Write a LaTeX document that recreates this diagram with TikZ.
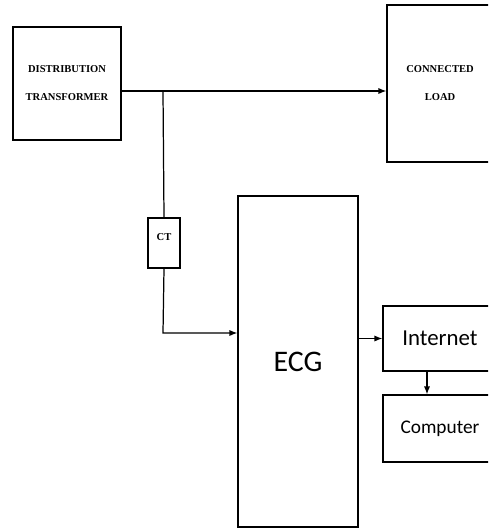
\documentclass[tikz,border=0pt]{standalone}
\usepackage{fontspec}
\setmainfont{Liberation Serif}
\newfontfamily\labfont{Carlito}
\usetikzlibrary{arrows.meta,positioning,calc}

\begin{document}
\begin{tikzpicture}[x=0.02cm, y=-0.02cm,
    block/.style={draw, line width=0.7pt, inner sep=0pt, align=center},
    caps/.style={font=\fontsize{6}{16}\selectfont\bfseries},
    arr/.style={-{Latex[length=4.5pt,width=3.5pt]}, line width=0.7pt},
    wire/.style={line width=0.7pt}
]
\useasboundingbox (0,0) rectangle (488,528);
\clip (0,0) rectangle (488,528);

\node[block, caps, minimum width=2.16cm, minimum height=2.26cm] (dt) at (67,83.5) {DISTRIBUTION\\TRANSFORMER};
\node[block, caps, minimum width=2.12cm, minimum height=3.14cm] (load) at (440,83.5) {CONNECTED\\LOAD};
\node[block, caps, text depth=7pt, minimum width=0.64cm, minimum height=1cm] (ct) at (164,243) {CT};
\node[block, font=\labfont\fontsize{17}{20}\selectfont, minimum width=2.4cm, minimum height=6.62cm] (ecg) at (298,361.5) {ECG};
\node[block, font=\labfont\fontsize{13}{15}\selectfont, minimum width=2.28cm, minimum height=1.3cm] (net) at (440,338.5) {Internet};
\node[block, font=\labfont\fontsize{11}{13}\selectfont, minimum width=2.28cm, minimum height=1.34cm] (comp) at (440,428.5) {Computer};

\coordinate (bus) at (163,91);
\coordinate (tap) at (163,333);
\coordinate (drop) at (427,380);

\draw[arr] (dt.east |- bus) -- (load.west |- bus);
\draw[wire] (bus) -- (ct.north);
\draw[arr] (ct.south) -- (tap) -- (ecg.west |- tap);
\draw[arr] (ecg.east |- net.west) -- (net.west);
\draw[arr] (drop |- net.south) -- (drop |- comp.north);
\end{tikzpicture}
\end{document}
